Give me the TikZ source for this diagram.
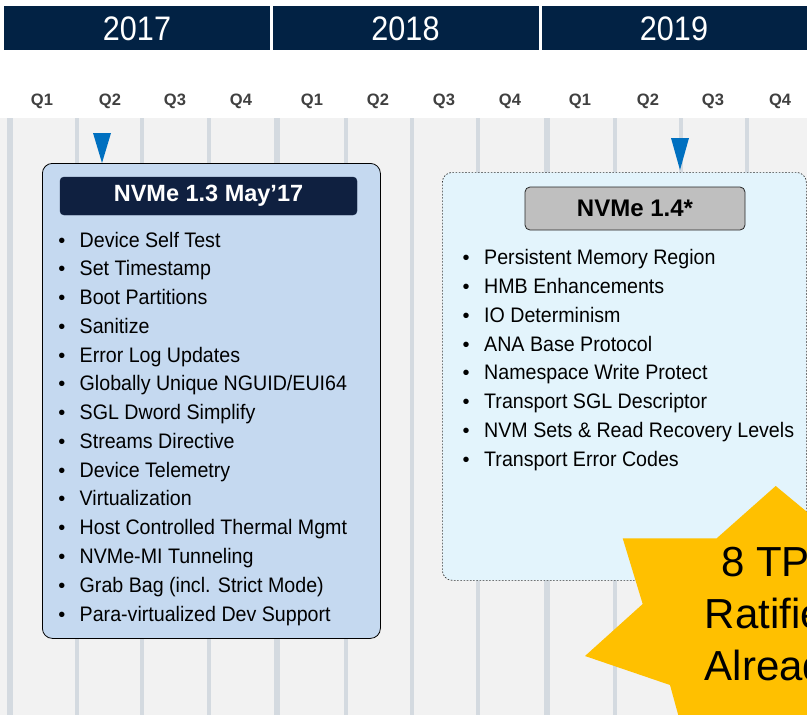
\documentclass[tikz,border=0pt]{standalone}
\usepackage{fontspec}
\setmainfont{Liberation Sans}
\newfontfamily\itemfont[FakeStretch=0.935]{Liberation Sans}
\newfontfamily\yearfont[FakeStretch=0.9]{Liberation Sans}
\definecolor{barnavy}{RGB}{2,34,68}
\definecolor{hdrnavy}{RGB}{15,32,64}
\definecolor{bggray}{RGB}{242,242,242}
\definecolor{gridgray}{RGB}{212,218,224}
\definecolor{qgray}{RGB}{64,64,64}
\definecolor{boxblue}{RGB}{197,217,240}
\definecolor{boxice}{RGB}{227,244,252}
\definecolor{hdrgray}{RGB}{191,191,191}
\definecolor{markblue}{RGB}{0,112,192}
\definecolor{stargold}{RGB}{255,192,0}
\tikzset{
  yearlabel/.style={text=white, font=\yearfont\fontsize{34}{40}\selectfont, inner sep=0pt},
  qlabel/.style={text=qgray, font=\bfseries\fontsize{16.5}{20}\selectfont, inner sep=0pt},
  qline/.style={draw=gridgray, line width=3.5pt},
  yline/.style={draw=gridgray, line width=5.5pt},
  marker/.style={fill=markblue},
  specbox/.style={anchor=north west, inner sep=0pt, rounded corners=10pt},
  itemtext/.style={anchor=base west, inner sep=0pt, font=\itemfont\fontsize{21}{25}\selectfont},
  bullettext/.style={anchor=base, inner sep=0pt, font=\fontsize{20}{24}\selectfont},
  startext/.style={anchor=base, inner sep=0pt, font=\fontsize{42}{50}\selectfont}
}
\begin{document}
\begin{tikzpicture}[x=1pt,y=-1pt]
\useasboundingbox (0,0) rectangle (807,715);
\clip (0,0) rectangle (807,715);
\fill[white] (0,0) rectangle (807,715);

% year bar
\fill[barnavy] (4,6) rectangle (270,50);
\fill[barnavy] (273,6) rectangle (538.5,50);
\fill[barnavy] (541.5,6) rectangle (807,50);
\node[yearlabel] (y17) at (137,29) {2017};
\node[yearlabel] (y18) at (405.5,29) {2018};
\node[yearlabel] (y19) at (674,29) {2019};

% quarter labels
\foreach \x/\q [count=\i] in {42/Q1,110/Q2,175/Q3,241/Q4,312/Q1,378/Q2,444/Q3,510/Q4,580/Q1,648/Q2,713/Q3,780/Q4}
  \node[qlabel] (q\i) at (\x,101) {\q};

% timeline background and quarter dividers
\fill[bggray] (0,118) rectangle (807,715);
\foreach \x in {77,142,209,346,412,478,615,681,747}
  \draw[qline] (\x,118) -- (\x,715);
\foreach \x in {10,277,547}
  \draw[yline] (\x,118) -- (\x,715);

% release markers
\fill[marker] (93,133) -- (111,133) -- (102,163) -- cycle;
\fill[marker] (671,138) -- (689,138) -- (680,170) -- cycle;

% NVMe 1.3 box
\node[specbox, draw=black, line width=0.8pt, fill=boxblue,
      minimum width=338pt, minimum height=475pt] (b13) at (42,163) {};
\node[fill=hdrnavy, draw=hdrnavy, rounded corners=4pt, minimum width=297pt, minimum height=38pt,
      inner sep=0pt, text=white, font=\bfseries\fontsize{23.5}{28}\selectfont] (h13) at (208.5,196) {NVMe 1.3 May’17};
\foreach \t [count=\i] in {{Device Self Test},{Set Timestamp},{Boot Partitions},{Sanitize},
  {Error Log Updates},{Globally Unique NGUID/EUI64},{SGL Dword Simplify},{Streams Directive},
  {Device Telemetry},{Virtualization},{Host Controlled Thermal Mgmt},{NVMe-MI Tunneling},
  {Grab Bag (incl. Strict Mode)},{Para-virtualized Dev Support}}{
  \pgfmathsetmacro{\yy}{247+28.77*(\i-1)}
  \node[bullettext] (lb\i) at (62,\yy) {•};
  \node[itemtext] (li\i) at (79.5,\yy) {\t};
}

% NVMe 1.4 box
\node[specbox, draw=black!80, line width=0.7pt, dash pattern=on 1.6pt off 1.6pt, fill=boxice,
      minimum width=364pt, minimum height=408pt] (b14) at (442,172) {};
\node[fill=hdrgray, draw=black!85, line width=0.8pt, rounded corners=5pt, minimum width=220pt, minimum height=43pt,
      inner sep=0pt, font=\bfseries\fontsize{24}{28}\selectfont] (h14) at (635,208.5) {NVMe 1.4*};
\foreach \t [count=\i] in {{Persistent Memory Region},{HMB Enhancements},{IO Determinism},
  {ANA Base Protocol},{Namespace Write Protect},{Transport SGL Descriptor},
  {NVM Sets \& Read Recovery Levels},{Transport Error Codes}}{
  \pgfmathsetmacro{\yy}{264.5+28.86*(\i-1)}
  \node[bullettext] (rb\i) at (466,\yy) {•};
  \node[itemtext] (ri\i) at (484,\yy) {\t};
}

% ratification burst
\fill[stargold] (775.7,486) -- (830,531) -- (900,540) -- (900,800) -- (684,736)
  -- (670,685) -- (585,656) -- (642.7,604) -- (622.7,538.3) -- (716.7,538.3) -- cycle;
\node[startext] (s1) at (776,576.7) {8 TPs};
\node[startext] (s2) at (776,628) {Ratified};
\node[startext] (s3) at (776,680) {Already};
\end{tikzpicture}
\end{document}
